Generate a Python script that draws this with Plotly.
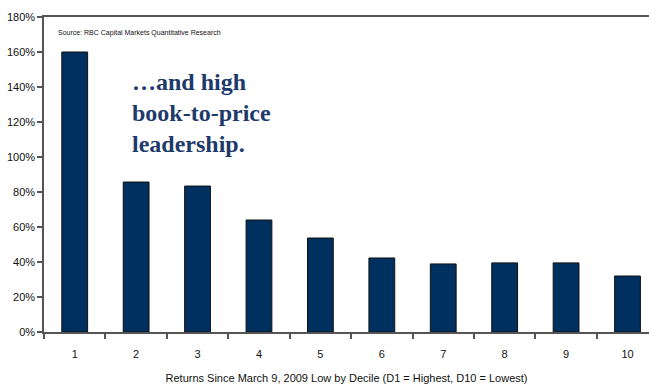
import plotly.graph_objects as go

deciles = ["1", "2", "3", "4", "5", "6", "7", "8", "9", "10"]
returns_pct = [160, 85.7, 83.4, 64, 53.7, 42.3, 38.9, 39.5, 39.5, 32]
y_ticks = [0, 20, 40, 60, 80, 100, 120, 140, 160, 180]
y_tick_labels = [f"{v}%" for v in y_ticks]

NAVY = "#00305f"
AXIS = "#555555"
SANS = "Liberation Sans Narrow, Arial Narrow, Liberation Sans, Arial, sans-serif"

fig = go.Figure(
    go.Bar(
        x=deciles,
        y=returns_pct,
        width=0.42,
        marker=dict(color=NAVY, line=dict(color="#111111", width=1)),
    )
)

fig.update_layout(
    width=649,
    height=384,
    margin=dict(l=44, r=0, t=17, b=52),
    paper_bgcolor="white",
    plot_bgcolor="white",
    showlegend=False,
    font=dict(family=SANS, size=11, color="#111111"),
)

fig.update_xaxes(
    type="category",
    range=[-0.5, 9.35],
    showline=True,
    linecolor=AXIS,
    linewidth=2,
    mirror=True,
    ticks="outside",
    tickson="boundaries",
    ticklen=5,
    tickcolor=AXIS,
    tickwidth=1.5,
    showgrid=False,
    ticklabelstandoff=11,
    tickfont=dict(family=SANS, size=11, color="#111111"),
    title=dict(
        text="Returns Since March 9, 2009 Low by Decile (D1 = Highest, D10 = Lowest)",
        font=dict(family=SANS, size=11, color="#111111"),
        standoff=15,
    ),
)

fig.update_yaxes(
    range=[0, 180],
    tickvals=y_ticks,
    ticktext=y_tick_labels,
    showline=True,
    linecolor=AXIS,
    linewidth=1.5,
    ticks="outside",
    ticklen=5,
    tickcolor=AXIS,
    tickwidth=1.5,
    showgrid=False,
    zeroline=False,
    tickfont=dict(family=SANS, size=11, color="#111111"),
)

fig.add_annotation(
    xref="paper", yref="paper",
    x=0.02, y=0.949,
    xanchor="left", yanchor="middle",
    text="Source: RBC Capital Markets Quantitative Research",
    showarrow=False,
    font=dict(family=SANS, size=7, color="#111111"),
)

fig.add_annotation(
    xref="paper", yref="paper",
    x=0.142, y=0.84,
    xanchor="left", yanchor="top",
    align="left",
    text="<b>…and high<br>book-to-price<br>leadership.</b>",
    showarrow=False,
    font=dict(family="Liberation Serif, Times New Roman, serif", size=24, color="#1d3a6b"),
)

fig.write_html("out.html")
